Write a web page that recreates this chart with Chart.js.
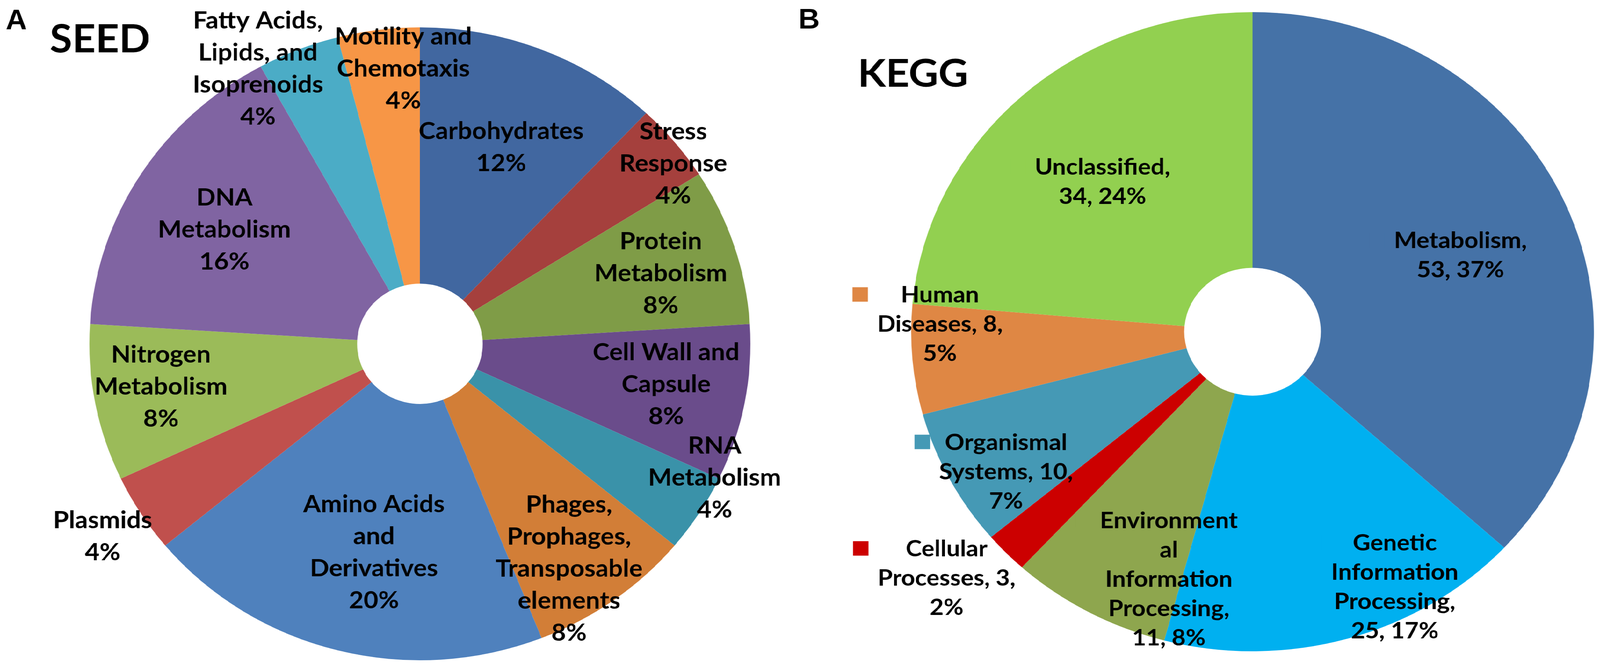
<!DOCTYPE html>
<html>
<head>
<meta charset="utf-8">
<script src="https://cdn.jsdelivr.net/npm/chart.js@4/dist/chart.umd.min.js"></script>
<style>
  html, body { margin: 0; padding: 0; background: #fff; overflow: hidden; }
  #stage { position: absolute; left: 0; top: 0; width: 4317px; height: 1720px; transform-origin: 0 0; }
  #stage canvas { position: absolute; top: 0; transform-origin: 0 0; }
</style>
</head>
<body>
<div id="stage">
  <canvas id="seedChart" width="1962" height="1720" style="left:0; transform:scaleX(1.101)"></canvas>
  <canvas id="keggChart" width="1916" height="1720" style="left:2160px; transform:scaleX(1.126)"></canvas>
</div>
<script>
// SEED subsystems (share in %)
const seedNames = ['Carbohydrates', 'Stress\nResponse', 'Protein\nMetabolism', 'Cell Wall and\nCapsule',
  'RNA\nMetabolism', 'Phages,\nProphages,\nTransposable\nelements', 'Amino Acids\nand\nDerivatives',
  'Plasmids', 'Nitrogen\nMetabolism', 'DNA\nMetabolism', 'Fatty Acids,\nLipids, and\nIsoprenoids',
  'Motility and\nChemotaxis']
const seedShare = [12, 4, 8, 8, 4, 8, 20, 4, 8, 16, 4, 4]
const seedColors = ['#4167A0', '#A5403D', '#7F9C47', '#6A4C8B', '#3A92A9', '#D27E37',
  '#4F81BD', '#C0504D', '#9BBB59', '#8064A2', '#4BACC6', '#F79646']

// KEGG categories (counts and %)
const keggNames = ['Metabolism', 'Genetic\nInformation\nProcessing', 'Environment\nal\nInformation\nProcessing',
  'Cellular\nProcesses', 'Organismal\nSystems', 'Human\nDiseases', 'Unclassified']
const keggCounts = [53, 25, 11, 3, 10, 8, 34]
const keggPct = [37, 17, 8, 2, 7, 5, 24]
const keggColors = ['#4572A7', '#00B0F0', '#8EA64E', '#CC0000', '#4599B5', '#DF8744', '#92D050']

const seedText = seedNames.map((n, i) => `${n}\n${seedShare[i]}%`)
// value goes on the name line for the three small outer labels
const keggText = keggNames.map((n, i) =>
  (i >= 3 && i <= 5) ? `${n}, ${keggCounts[i]},\n${keggPct[i]}%` : `${n},\n${keggCounts[i]}, ${keggPct[i]}%`)

// label placement: [fraction of outer radius, angle shift in degrees]
const seedPlace = [[0.668, 0], [0.955, 3], [0.762, 1], [0.756, -1], [0.987, -7], [0.842, 3.6],
  [0.674, -2.5], [1.137, 0], [0.795, 1], [0.693, -1], [0.998, -7.8], [0.87, 3.9]]
const keggPlace = [[0.654, 2.4], [0.901, -11.3], [0.813, -11.2], [1.183, 3], [0.845, -3.8],
  [0.916, 6.4], [0.642, -0.7]]

// the window may be narrower than 4317 (it is capped), so fit the stage to it
const stage = document.getElementById('stage')
const kx = window.innerWidth / 4317, ky = window.innerHeight / 1720
stage.style.transform = `scale(${kx}, ${ky})`

const sliceLabels = {
  id: 'sliceLabels',
  afterDatasetsDraw(chart, args, opts) {
    const ctx = chart.ctx
    const meta = chart.getDatasetMeta(0)
    const colors = chart.data.datasets[0].backgroundColor
    ctx.save()
    ctx.font = `bold ${opts.size}px Lato`
    ctx.textAlign = 'center'
    ctx.textBaseline = 'middle'
    meta.data.forEach((arc, i) => {
      const [f, off] = opts.place[i]
      const a = (arc.startAngle + arc.endAngle) / 2 + off * Math.PI / 180
      const cx = arc.x + Math.cos(a) * arc.outerRadius * f
      const cy = arc.y + Math.sin(a) * arc.outerRadius * f
      const lines = opts.text[i].split('\n')
      const y0 = cy - (lines.length - 1) * opts.lineHeight / 2
      if (opts.key) {
        const w = Math.max(...lines.map(l => ctx.measureText(l).width))
        ctx.fillStyle = colors[i]
        ctx.fillRect(cx - w / 2 - 22 - opts.key, y0 - opts.key / 2 - 2, opts.key, opts.key)
      }
      ctx.fillStyle = '#000'
      lines.forEach((ln, k) => ctx.fillText(ln, cx, y0 + k * opts.lineHeight))
    })
    ctx.textAlign = 'left'
    ctx.textBaseline = 'alphabetic'
    opts.titles.forEach(t => {
      ctx.font = t.font
      ctx.fillText(t.text, t.x, t.y)
    })
    ctx.restore()
  }
}

function pie(id, labels, values, colors, cutout, padding, labelOpts) {
  return new Chart(document.getElementById(id), {
    type: 'doughnut',
    data: {
      labels: labels,
      datasets: [{ data: values, backgroundColor: colors, borderWidth: 0 }]
    },
    options: {
      responsive: false,
      animation: false,
      events: [],
      cutout: cutout,
      layout: { padding: padding },
      plugins: {
        legend: { display: false },
        tooltip: { enabled: false },
        sliceLabels: labelOpts
      }
    },
    plugins: [sliceLabels]
  })
}

pie('seedChart', seedNames, seedShare, seedColors, '19%',
  { left: 219, right: 123, top: 70, bottom: 30 },
  {
    text: seedText, place: seedPlace, size: 62, lineHeight: 82, key: 0,
    titles: [
      { text: 'A', x: 14, y: 75, font: 'bold 72px "Liberation Sans"' },
      { text: 'SEED', x: 122, y: 134, font: 'bold 100px Lato' }
    ]
  })

pie('keggChart', keggNames, keggCounts, keggColors, '20%',
  { left: 265, right: 15, top: 31, bottom: 53 },
  {
    text: keggText, place: keggPlace, size: 58, lineHeight: 75, key: 37,
    titles: [
      { text: 'B', x: -6, y: 73, font: 'bold 72px "Liberation Sans"' },
      { text: 'KEGG', x: 137, y: 222, font: 'bold 98px Lato' }
    ]
  })
</script>
</body>
</html>
